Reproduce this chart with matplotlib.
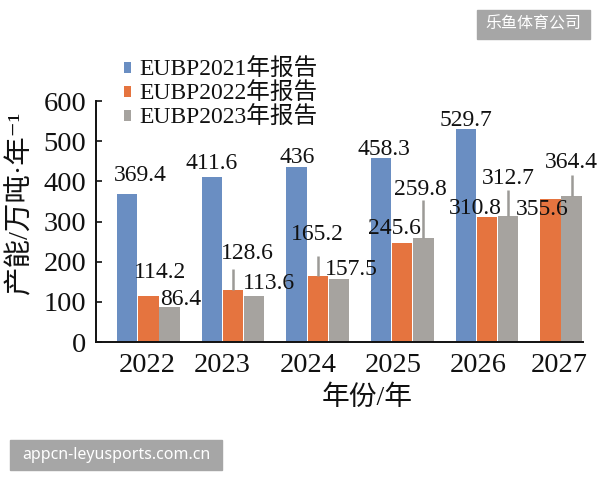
import numpy as np
import matplotlib.pyplot as plt
from matplotlib.patches import Rectangle

serif = ['Liberation Serif', 'Noto Sans CJK SC', 'DejaVu Sans']
plt.rcParams['font.family'] = serif

# data
years = ['2022', '2023', '2024', '2025', '2026', '2027']
series = ['EUBP2021年报告', 'EUBP2022年报告', 'EUBP2023年报告']
eubp2021 = [369.4, 411.6, 436, 458.3, 529.7, np.nan]
eubp2022 = [114.2, 128.6, 165.2, 245.6, 310.8, 355.6]
eubp2023 = [86.4, 113.6, 157.5, 259.8, 312.7, 364.4]
# upper whiskers on some of the bars
up2021 = [0, 0, 0, 0, 0, 0]
up2022 = [0, 52, 49, 0, 0, 0]
up2023 = [0, 0, 0, 93, 67, 51]

colors = ['#6a8ec2', '#e5743f', '#a6a39f']
# where each value label sits, relative to its bar (dx in groups, dy in values)
lab_off = [
    [(0.15, 46), (0, 34), (0.01, 23), (0.035, 21), (0, 21), (0, 0)],
    [(0.136, 59), (0.165, 91), (0, 102), (-0.09, 36), (-0.14, 22), (-0.095, -25)],
    [(0.136, 20), (0.17, 31), (0.148, 22), (-0.035, 120), (0, 94), (0, 82)],
]
tick_shift = [-0.02, -0.13, -0.11, -0.11, -0.1, -0.14]

values = [eubp2021, eubp2022, eubp2023]
ups = [up2021, up2022, up2023]

fig = plt.figure(figsize=(6, 4.8), dpi=100)
ax = fig.add_axes([0.16, 0.2875, 0.8117, 0.502])

step, width = 0.25, 0.24
# bars fill slots from the left; a missing series leaves no gap
xpos = [[np.nan] * len(years) for _ in series]
for i in range(len(years)):
    slot = 0
    for s in range(len(series)):
        if not np.isnan(values[s][i]):
            xpos[s][i] = i - step + slot * step
            slot += 1

for s in range(len(series)):
    x = np.array(xpos[s])
    v = np.array(values[s], dtype=float)
    ok = ~np.isnan(v)
    ax.bar(x[ok], v[ok], width, color=colors[s], label=series[s], zorder=2)
    for i in np.where(ok)[0]:
        if ups[s][i] > 0:
            ax.plot([x[i], x[i]], [v[i], v[i] + ups[s][i]], color='#9c9a97',
                    lw=1.8, zorder=3, solid_capstyle='butt')
        dx, dy = lab_off[s][i]
        ax.text(x[i] + dx, v[i] + dy, f'{v[i]:g}', ha='center', va='center',
                fontsize=17, color='#111111', zorder=4)

ax.set_xlim(-0.62, 5.136)
ax.set_ylim(0, 600)
ax.set_yticks(range(0, 601, 100))
ax.set_xticks([i + d for i, d in enumerate(tick_shift)])
ax.set_xticklabels(years)
ax.tick_params(axis='x', length=0, pad=8, labelsize=20.5, colors='#111111')
ax.tick_params(axis='y', direction='in', length=4, width=1.2, pad=7,
               labelsize=20.5, colors='#111111')
for side in ['top', 'right']:
    ax.spines[side].set_visible(False)
for side in ['left', 'bottom']:
    ax.spines[side].set_linewidth(1.4)
    ax.spines[side].set_color('#111111')

ax.set_xlabel('年份/年', fontsize=20, color='#111111')
ax.xaxis.set_label_coords(0.556, -0.18)
fig.text(20 / 600, 1 - 203 / 480, '产能/万吨·年⁻¹', rotation=90, ha='center',
         va='center', fontsize=20.5, color='#111111')

fig.legend(loc='upper left', bbox_to_anchor=(124 / 600, 1 - 59 / 480),
           frameon=False, fontsize=17, handlelength=0.3, handleheight=0.3,
           handletextpad=0.35, labelspacing=0.08, borderpad=0,
           borderaxespad=0, labelcolor='#111111')

# watermarks
fig.patches.append(Rectangle((477 / 600, 1 - 39 / 480), 113 / 600, 29 / 480,
                             transform=fig.transFigure, color='#a6a6a6'))
fig.text(533.5 / 600, 1 - 24.5 / 480, '乐鱼体育公司', ha='center', va='center',
         color='white', fontsize=11.5, family=['Noto Sans CJK SC'])
fig.patches.append(Rectangle((10 / 600, 1 - 470 / 480), 212 / 600, 30 / 480,
                             transform=fig.transFigure, color='#a6a6a6'))
fig.text(116 / 600, 1 - 455 / 480, 'appcn-leyusports.com.cn', ha='center',
         va='center', color='white', fontsize=11.5, family=['Noto Sans'])

fig.savefig('out.png', dpi=100)
